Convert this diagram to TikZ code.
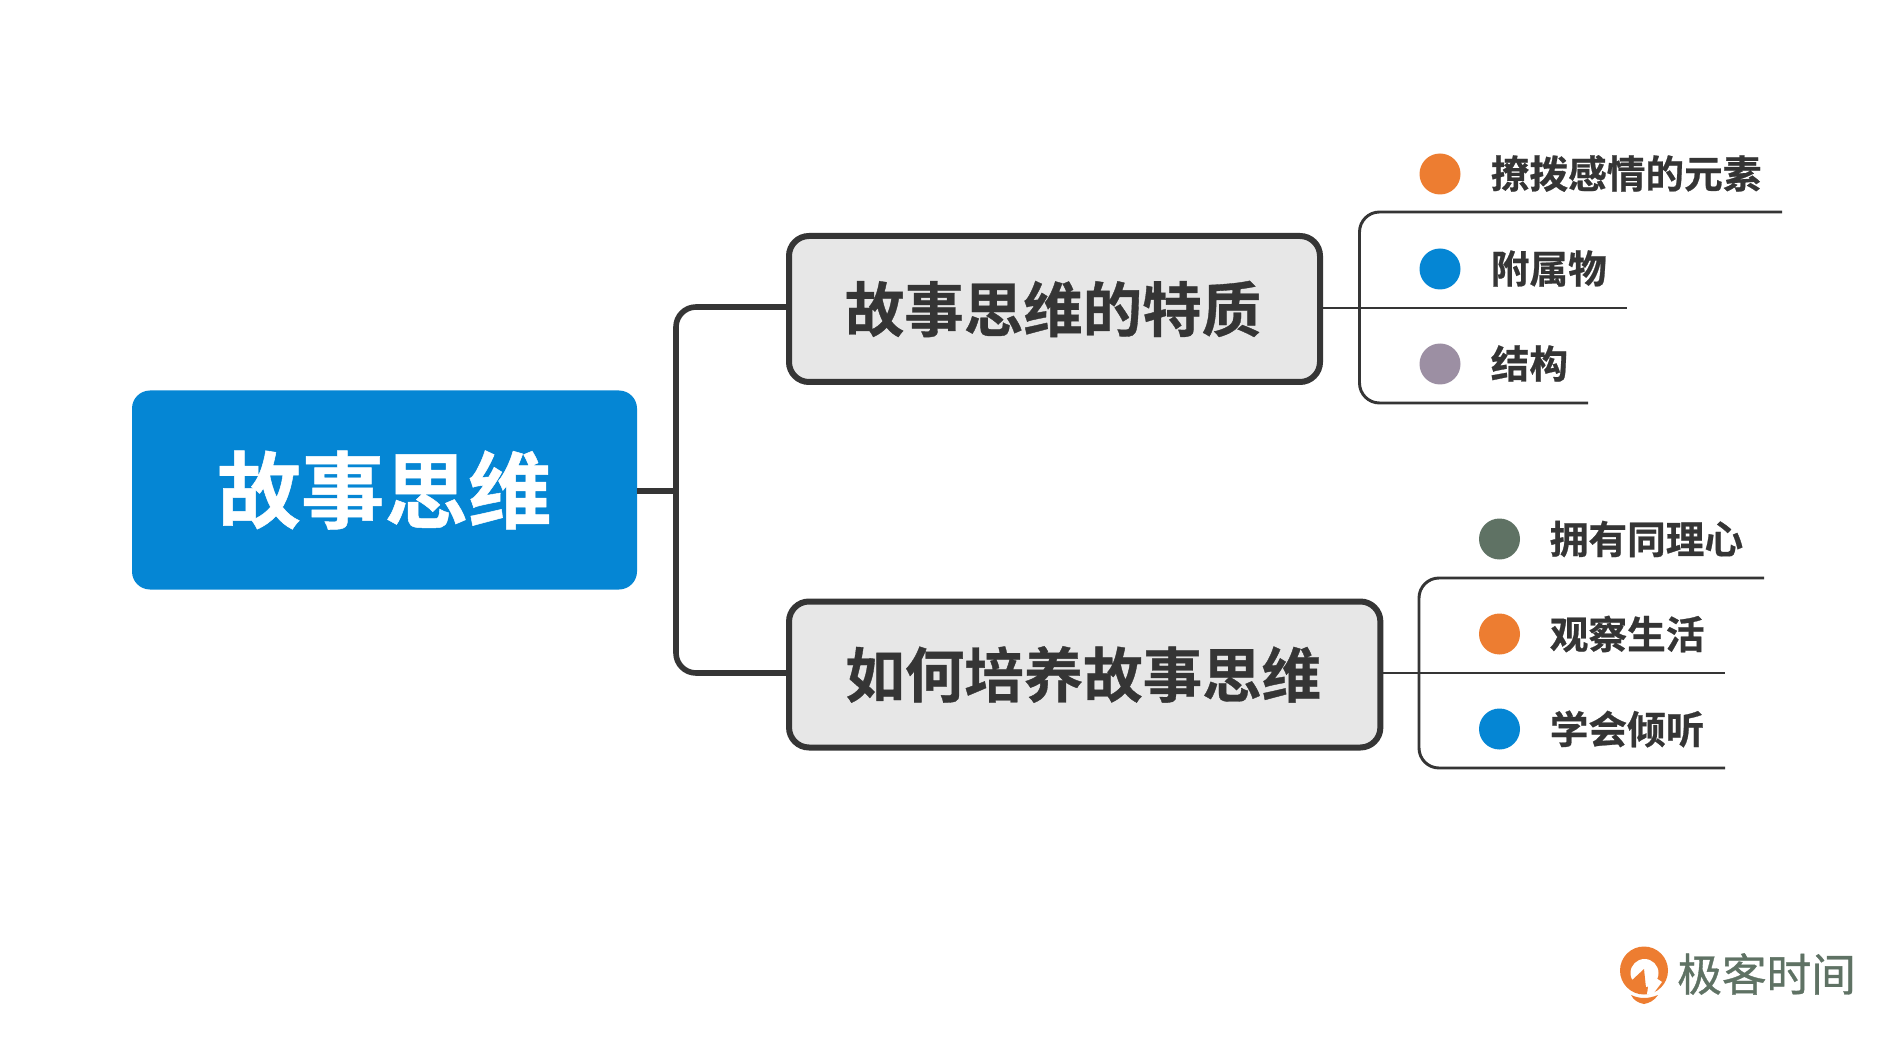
\documentclass[tikz,border=0pt]{standalone}
\usepackage{fontspec}
\setmainfont{Noto Sans CJK SC}
\newfontfamily\cjkb{Noto Sans CJK SC Bold}[FakeBold=0.6]
\newfontfamily\cjkr{Noto Sans CJK SC}[FakeBold=0.8]
\definecolor{ink}{HTML}{353535}
\definecolor{rootblue}{HTML}{0586D4}
\definecolor{markorange}{HTML}{ED7D31}
\definecolor{markpurple}{HTML}{9C8FA3}
\definecolor{markgreen}{HTML}{5F7264}
\definecolor{boxgray}{HTML}{E7E7E7}
\tikzset{
  x=0.75pt,y=-0.75pt,
  rootbox/.style={fill=rootblue,rounded corners=13.5pt,inner sep=0,minimum width=378.75pt,minimum height=149.25pt,text=white,font=\cjkb\fontsize{62.7pt}{62.7pt}\selectfont},
  topicbox/.style={draw=ink,line width=4.5pt,fill=boxgray,rounded corners=15pt,inner sep=0,minimum height=109.5pt,text=ink,font=\cjkb\fontsize{44.6pt}{44.6pt}\selectfont},
  trunk/.style={draw=ink,line width=4.2pt,rounded corners=15pt},
  rootlink/.style={draw=ink,line width=4.5pt},
  twig/.style={draw=ink,line width=2.2pt,rounded corners=15pt},
  dot/.style={circle,inner sep=0,minimum size=30.75pt},
  leaf/.style={anchor=west,inner sep=0,text=ink,font=\cjkb\fontsize{29pt}{29pt}\selectfont},
}
\begin{document}
\begin{tikzpicture}
\useasboundingbox (0,0) rectangle (1904,1041);
\fill[white] (0,0) rectangle (1904,1041);
% root
\node[rootbox] (root) at (384.5,490) {故事思维};
% topics
\node[topicbox,minimum width=398.25pt] (t1) at (1054.5,309) {\hspace{-2.2pt}\raisebox{1.6pt}{故事思维的特质}};
\node[topicbox,minimum width=443.5pt] (t2) at (1084.7,674.5) {\hspace{-2.2pt}\raisebox{2.6pt}{如何培养故事思维}};
% trunk
\coordinate (jn) at (676,490.5);
\draw[rootlink] (root.east |- jn) -- (jn);
\coordinate (k1) at (676,307);
\coordinate (k2) at (676,673);
\draw[trunk] (t1.west |- k1) -- (k1) -- (k2) -- (t2.west |- k2);
% branch one
\coordinate (a0) at (1359.5,212); \coordinate (a4) at (1359.5,403);
\coordinate (a1) at (1782,212); \coordinate (a2) at (1627,308); \coordinate (a3) at (1588,403);
\draw[twig] (a1) -- (a0) -- (a4) -- (a3);
\draw[twig] (t1.east |- a2) -- (a2);
\node[dot,fill=markorange] (d1) at (1440,174) {};
\node[dot,fill=rootblue] (d2) at (1440,269) {};
\node[dot,fill=markpurple] (d3) at (1440,364) {};
\node[leaf] (l1) at (1490.5,173.5) {撩拨感情的元素};
\node[leaf] (l2) at (1490.5,268.5) {附属物};
\node[leaf] (l3) at (1490.5,363.5) {结构};
% branch two
\coordinate (b0) at (1419,578); \coordinate (b4) at (1419,768);
\coordinate (b1) at (1764,578); \coordinate (b2) at (1725,673); \coordinate (b3) at (1725,768);
\draw[twig] (b1) -- (b0) -- (b4) -- (b3);
\draw[twig] (t2.east |- b2) -- (b2);
\node[dot,fill=markgreen] (e1) at (1499.5,539) {};
\node[dot,fill=markorange] (e2) at (1499.5,634) {};
\node[dot,fill=rootblue] (e3) at (1499.5,729) {};
\node[leaf] (m1) at (1549.5,539) {拥有同理心};
\node[leaf] (m2) at (1549.5,634) {观察生活};
\node[leaf] (m3) at (1549.5,729) {学会倾听};
% logo
\fill[markorange] (1644,970.5) circle (24);
\fill[white] (1644.5,973) circle (14);
\fill[markorange] (1630,982) -- (1644,969) -- (1646,988) -- (1639,994) -- cycle;
\fill[white] (1650,974) -- (1662,982) -- (1653,994) -- (1647,994) -- cycle;
\fill[markorange] (1631,995) .. controls (1640,999) and (1648,999) .. (1658,995) .. controls (1654,1001) and (1649,1003) .. (1644,1004) .. controls (1639,1003) and (1634,1001) .. (1631,995) -- cycle;
\node[inner sep=0,anchor=west,text=markgreen,font=\cjkr\fontsize{33.5pt}{33.5pt}\selectfont] (brand) at (1677,974) {极客时间};
\end{tikzpicture}
\end{document}
